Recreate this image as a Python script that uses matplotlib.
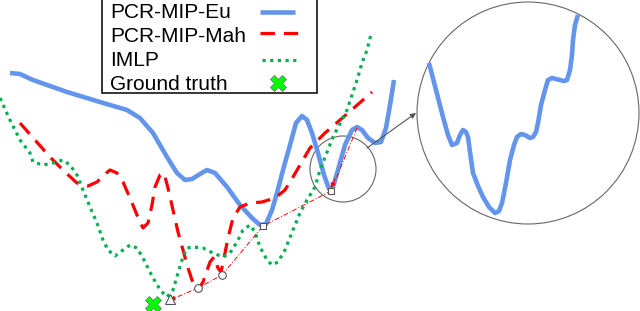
from matplotlib import pyplot as plt
from matplotlib.patches import Circle, Rectangle

plt.rcParams['font.family'] = ['Liberation Sans', 'DejaVu Sans']

# curves, in picture units (x right, y down)
eu_x = [10, 20, 33, 67, 100, 127, 140, 153, 160, 167, 177, 185, 192, 200, 207, 215, 227, 240, 252, 260,
        266, 272, 277, 283, 290, 296, 302, 307, 312, 318, 324, 329, 333, 338, 345, 352, 357, 362, 368, 375,
        381, 386, 390, 394]
eu_y = [73, 74, 80, 92, 102, 110, 118, 133, 145, 157, 173, 180, 179, 174, 170, 173, 187, 205, 218, 225,
        224, 210, 193, 170, 145, 123, 116, 120, 133, 153, 175, 189, 187, 170, 145, 130, 127, 130, 138, 143,
        142, 128, 105, 80]

mah_x = [20, 35, 50, 65, 77, 88, 97, 104, 110, 117, 123, 130, 137, 143, 148, 152, 155, 160, 164, 168,
         173, 178, 183, 188, 193, 198, 203, 210, 214, 218, 221, 224, 228, 233, 240, 250, 262, 275, 285, 293,
         300, 310, 325, 340, 355, 372]
mah_y = [123, 140, 157, 172, 183, 186, 182, 175, 170, 173, 182, 198, 215, 228, 223, 205, 187, 175, 173, 188,
         210, 232, 250, 268, 283, 290, 282, 262, 257, 268, 272, 258, 238, 218, 207, 203, 202, 198, 190, 177,
         165, 148, 133, 120, 107, 92]

imlp_x = [0, 10, 20, 30, 33, 43, 53, 63, 70, 77, 83, 90, 97, 103, 108, 115, 123, 130, 137, 143,
          150, 157, 163, 167, 173, 178, 183, 187, 193, 203, 213, 223, 230, 237, 243, 250, 255, 260, 267, 272,
          278, 285, 293, 300, 307, 315, 320, 333, 347, 357, 362, 367, 370, 372]
imlp_y = [98, 120, 140, 153, 162, 165, 163, 160, 165, 175, 190, 207, 223, 240, 250, 256, 250, 245, 248, 258,
          272, 285, 293, 297, 290, 273, 257, 248, 247, 248, 253, 257, 253, 242, 230, 225, 232, 247, 260, 265,
          262, 250, 230, 213, 200, 187, 170, 137, 110, 80, 63, 50, 38, 33]

# magnified piece of PCR-MIP-Eu
zoom_x = [429, 436, 443, 448, 452, 457, 460, 463, 466, 468, 470, 473, 478, 483, 489, 495, 499, 502, 506, 510,
          514, 517, 521, 525, 530, 533, 536, 538, 541, 545, 548, 552, 556, 560, 564, 567, 570, 572, 573, 575, 578]
zoom_y = [63, 90, 117, 135, 145, 143, 135, 130, 132, 137, 152, 173, 186, 197, 207, 213, 211, 203, 183, 160,
          145, 137, 134, 135, 138, 137, 132, 123, 105, 90, 80, 78, 79, 80, 81, 80, 70, 55, 40, 25, 15]

# descent path of the solver
path_x = [357, 331, 263, 222, 198, 170]
path_y = [128, 191, 226, 275, 288, 300]
sq_x, sq_y = [263, 331], [226, 191]
ci_x, ci_y = [198, 222], [288, 275]
tri_x, tri_y = [170], [299]
gt_x, gt_y = [153], [304]

labels = ['PCR-MIP-Eu', 'PCR-MIP-Mah', 'IMLP', 'Ground truth']

fig = plt.figure(figsize=[6.4, 3.11], dpi=100)
ax = fig.add_axes([0, 0, 1, 1])
ax.set_xlim(0, 640)
ax.set_ylim(311, 0)
ax.axis('off')

eu_style = dict(color='#6495ED', lw=3.3, solid_capstyle='butt', solid_joinstyle='round')
mah_style = dict(color='#FF0000', lw=2.3, dashes=(4.5, 2.8), dash_capstyle='butt')
imlp_style = dict(color='#00B050', lw=2.3, dashes=(1.0, 1.4), dash_capstyle='butt')
gt_style = dict(marker='X', ms=12, mfc='#00FF00', mec='#777777', mew=0.6, ls='none')

ax.plot(eu_x, eu_y, zorder=3, **eu_style)
ax.plot(mah_x, mah_y, zorder=4, **mah_style)
ax.plot(imlp_x, imlp_y, zorder=4, **imlp_style)
ax.plot(zoom_x, zoom_y, zorder=3, **eu_style)

ax.plot(path_x, path_y, color='#FF0000', lw=0.7, dashes=(5, 2, 1, 2), zorder=5)
ax.annotate('', xy=(path_x[-1], path_y[-1]), xytext=(path_x[-2], path_y[-2]),
            arrowprops=dict(arrowstyle='-|>', color='#FF0000', lw=0.7, mutation_scale=7, shrinkA=20, shrinkB=0),
            zorder=5)
ax.annotate('', xy=(sq_x[1], sq_y[1] - 3), xytext=(path_x[0], path_y[0]),
            arrowprops=dict(arrowstyle='-|>', color='#FF0000', lw=0.7, mutation_scale=7, shrinkA=40, shrinkB=0),
            zorder=5)

ax.plot(sq_x, sq_y, 's', ms=5, mfc='white', mec='#555555', mew=0.8, zorder=6)
ax.plot(ci_x, ci_y, 'o', ms=5.5, mfc='white', mec='#555555', mew=0.8, zorder=6)
ax.plot(tri_x, tri_y, '^', ms=7, mfc='white', mec='#555555', mew=0.8, zorder=6)
ax.plot(gt_x, gt_y, zorder=7, **gt_style)

ax.add_patch(Circle((343, 169), 33, fill=False, ec='#666666', lw=0.8, zorder=2))
ax.add_patch(Circle((528, 113), 111, fill=False, ec='#666666', lw=0.8, zorder=2))
ax.annotate('', xy=(416, 113), xytext=(367, 148),
            arrowprops=dict(arrowstyle='-|>', color='#555555', lw=0.8, mutation_scale=8, shrinkA=0, shrinkB=0))

# legend box drawn by hand: text left, sample right
ax.add_patch(Rectangle((102, -2), 215, 95, fill=True, fc='white', ec='black', lw=1.1, zorder=8))
row_y = [12, 35, 60, 84]
for lab, y in zip(labels, row_y):
    ax.text(110, y + 1, lab, fontsize=15, va='center', ha='left', zorder=9)
ax.plot([260, 295], [row_y[0], row_y[0]], zorder=9, **eu_style)
ax.plot([260, 298], [row_y[1] - 2, row_y[1] - 2], zorder=9, **mah_style)
ax.plot([262, 298], [row_y[2], row_y[2]], zorder=9, **imlp_style)
ax.plot([278], [row_y[3] - 1], zorder=9, **gt_style)

plt.savefig('out.png', dpi=100)
